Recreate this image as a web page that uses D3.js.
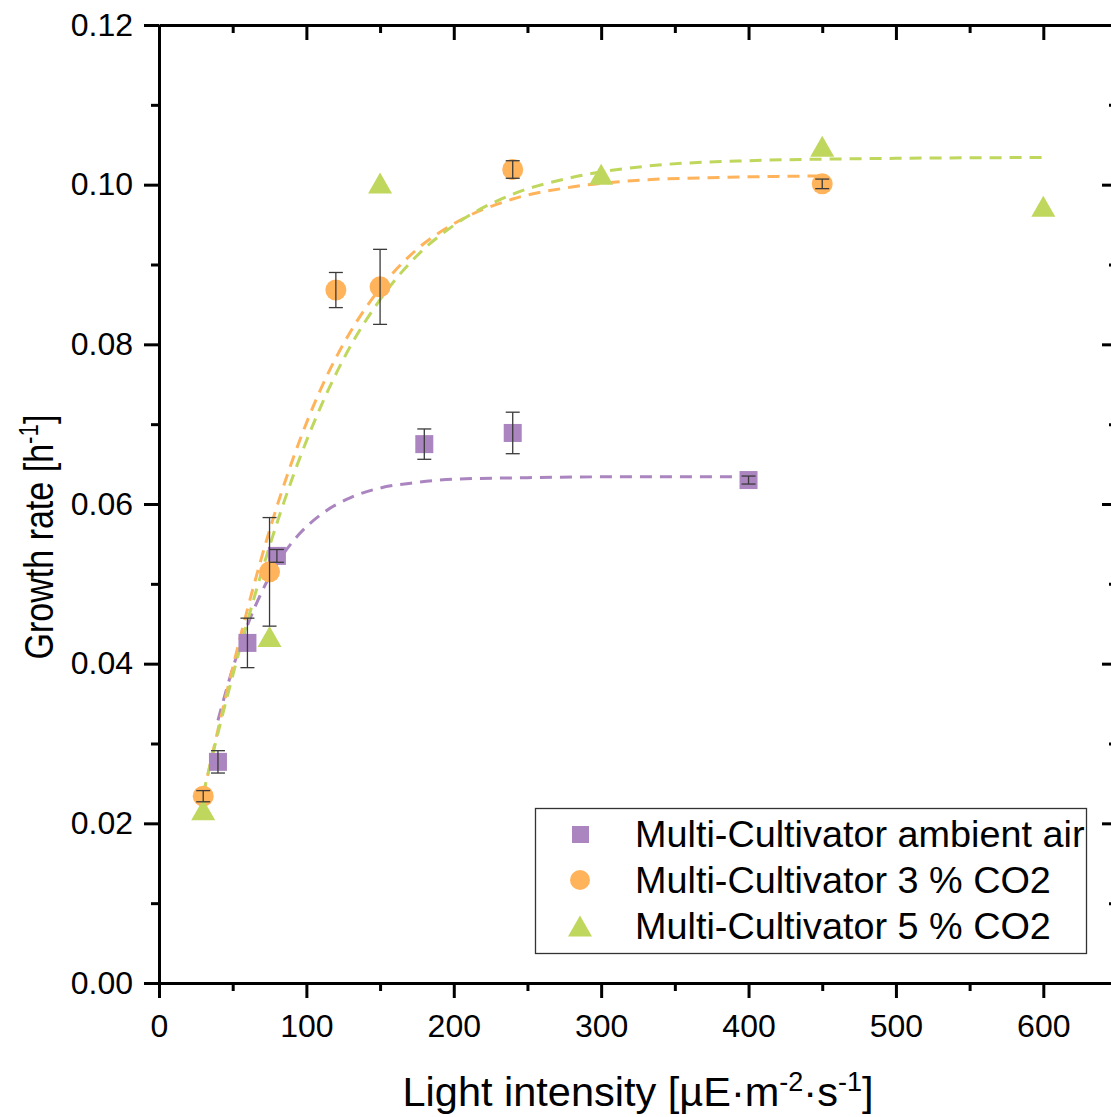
<!DOCTYPE html>
<html>
<head>
<meta charset="utf-8">
<script src="https://cdn.jsdelivr.net/npm/d3@7"></script>
<style>
  body { margin: 0; background: #fff; }
  text { font-family: "Liberation Sans", Arial, sans-serif; fill: #000; }
</style>
</head>
<body>
<div id="chart"></div>
<script>
// measured points
const lightAmbient = [40, 60, 80, 180, 240, 400];
const rateAmbient = [0.0277, 0.0426, 0.0535, 0.0675, 0.0689, 0.0630];
const errAmbient = [0.0014, 0.0031, 0.0008, 0.0019, 0.0026, 0.0005];

const light3 = [30, 75, 120, 150, 240, 450];
const rate3 = [0.0234, 0.0515, 0.0868, 0.0872, 0.1019, 0.1001];
const err3 = [0.0007, 0.0068, 0.0022, 0.0047, 0.0011, 0.0006];

const light5 = [30, 75, 150, 300, 450, 600];
const rate5 = [0.0217, 0.0434, 0.1002, 0.1013, 0.1048, 0.0973];

// fitted curves
const fitAmbientX = [40, 50, 60, 70, 80, 95, 110, 130, 150, 175, 200, 250, 300, 400];
const fitAmbientY = [0.0329, 0.0394, 0.0448, 0.0491, 0.0525, 0.0562, 0.0587, 0.0608, 0.0620, 0.0627, 0.0631, 0.0633, 0.0634, 0.0634];

const fit3X = [30, 40, 50, 60, 75, 90, 110, 130, 150, 175, 200, 240, 280, 330, 380, 450];
const fit3Y = [0.0235, 0.0317, 0.0395, 0.0468, 0.0567, 0.0652, 0.0745, 0.0816, 0.0870, 0.0919, 0.0951, 0.0982, 0.0997, 0.1006, 0.1009, 0.1011];

const fit5X = [30, 40, 50, 60, 75, 90, 110, 130, 150, 175, 200, 240, 280, 330, 400, 500, 600];
const fit5Y = [0.0237, 0.0313, 0.0385, 0.0453, 0.0547, 0.0630, 0.0723, 0.0798, 0.0856, 0.0911, 0.0949, 0.0988, 0.1009, 0.1023, 0.1030, 0.1033, 0.1034];

const seriesNames = ['Multi-Cultivator ambient air', 'Multi-Cultivator 3 % CO2', 'Multi-Cultivator 5 % CO2'];
const xTicks = [0, 100, 200, 300, 400, 500, 600];
const yTicks = [0, 0.02, 0.04, 0.06, 0.08, 0.10, 0.12];

const purple = '#ab85c0';
const orange = '#ffb45c';
const green = '#bfd75c';

const width = 1111;
const height = 1117;

const svg = d3.select('#chart')
  .append('svg')
  .attr('width', width)
  .attr('height', height);

// scales
const x = d3.scaleLinear().domain([0, 650]).range([159, 1117]);
const y = d3.scaleLinear().domain([0, 0.12]).range([983, 25]);

const xMinor = d3.range(50, 651, 100);
const yMinor = d3.range(0.01, 0.12, 0.02);

// bottom axis
svg.append('g')
  .attr('transform', 'translate(0,983)')
  .call(d3.axisBottom(x).tickValues(xMinor).tickSize(8).tickFormat(''))
  .call(g => g.select('.domain').remove());
const xAxis = svg.append('g')
  .attr('transform', 'translate(0,983)')
  .call(d3.axisBottom(x).tickValues(xTicks).tickSize(15).tickSizeOuter(0).tickPadding(16).tickFormat(d3.format('d')));
xAxis.selectAll('text').attr('font-size', '32px');

// top axis (ticks inward)
svg.append('g')
  .attr('transform', 'translate(0,25)')
  .call(d3.axisBottom(x).tickValues(xMinor).tickSize(8).tickFormat(''))
  .call(g => g.select('.domain').remove());
svg.append('g')
  .attr('transform', 'translate(0,25)')
  .call(d3.axisBottom(x).tickValues(xTicks).tickSize(15).tickSizeOuter(0).tickFormat(''));

// left axis
svg.append('g')
  .attr('transform', 'translate(159,0)')
  .call(d3.axisLeft(y).tickValues(yMinor).tickSize(8).tickFormat(''))
  .call(g => g.select('.domain').remove());
const yAxis = svg.append('g')
  .attr('transform', 'translate(159,0)')
  .call(d3.axisLeft(y).tickValues(yTicks).tickSize(15).tickSizeOuter(0).tickPadding(11).tickFormat(d3.format('.2f')));
yAxis.selectAll('text').attr('font-size', '32px');

// right axis (ticks inward)
svg.append('g')
  .attr('transform', 'translate(1117,0)')
  .call(d3.axisLeft(y).tickValues(yMinor).tickSize(8).tickFormat(''))
  .call(g => g.select('.domain').remove());
svg.append('g')
  .attr('transform', 'translate(1117,0)')
  .call(d3.axisLeft(y).tickValues(yTicks).tickSize(15).tickSizeOuter(0).tickFormat(''));

svg.selectAll('.domain, .tick line')
  .attr('stroke', '#000')
  .attr('stroke-width', 3);
svg.selectAll('.tick text').attr('fill', '#000');

// axis titles
const xTitle = svg.append('text')
  .attr('x', 638)
  .attr('y', 1106)
  .attr('text-anchor', 'middle')
  .attr('font-size', '41.5px');
xTitle.append('tspan').text('Light intensity [µE·m');
xTitle.append('tspan').attr('dy', -15).attr('font-size', '27px').text('-2');
xTitle.append('tspan').attr('dy', 15).text('·s');
xTitle.append('tspan').attr('dy', -15).attr('font-size', '27px').text('-1');
xTitle.append('tspan').attr('dy', 15).text(']');

const yTitle = svg.append('text')
  .attr('transform', 'translate(53,537) rotate(-90) scale(0.83,1)')
  .attr('text-anchor', 'middle')
  .attr('font-size', '41px');
yTitle.append('tspan').text('Growth rate [h');
yTitle.append('tspan').attr('dy', -15).attr('font-size', '27px').text('-1');
yTitle.append('tspan').attr('dy', 15).text(']');

// fitted curves
const line = d3.line()
  .x(d => x(d[0]))
  .y(d => y(d[1]))
  .curve(d3.curveMonotoneX);

const fits = [
  { xs: fitAmbientX, ys: fitAmbientY, color: purple },
  { xs: fit3X, ys: fit3Y, color: orange },
  { xs: fit5X, ys: fit5Y, color: green }
];
fits.forEach(f => {
  svg.append('path')
    .datum(f.xs.map((v, i) => [v, f.ys[i]]))
    .attr('d', line)
    .attr('fill', 'none')
    .attr('stroke', f.color)
    .attr('stroke-width', 3)
    .attr('stroke-dasharray', '12,8');
});

// error bars
function errorBars(xs, ys, es) {
  const g = svg.append('g').attr('stroke', '#3a3a3a').attr('stroke-width', 1.3);
  xs.forEach((v, i) => {
    const top = y(ys[i] + es[i]);
    const bot = y(ys[i] - es[i]);
    g.append('line').attr('x1', x(v)).attr('x2', x(v)).attr('y1', top).attr('y2', bot);
    g.append('line').attr('x1', x(v) - 7).attr('x2', x(v) + 7).attr('y1', top).attr('y2', top);
    g.append('line').attr('x1', x(v) - 7).attr('x2', x(v) + 7).attr('y1', bot).attr('y2', bot);
  });
}

const triangle = 'M0,-10.5L12,10.5L-12,10.5Z';

// markers
svg.selectAll('rect.ambient')
  .data(lightAmbient)
  .enter()
  .append('rect')
  .attr('class', 'ambient')
  .attr('x', d => x(d) - 9)
  .attr('y', (d, i) => y(rateAmbient[i]) - 9)
  .attr('width', 18)
  .attr('height', 18)
  .attr('fill', purple);

svg.selectAll('circle.co3')
  .data(light3)
  .enter()
  .append('circle')
  .attr('class', 'co3')
  .attr('cx', d => x(d))
  .attr('cy', (d, i) => y(rate3[i]))
  .attr('r', 10.5)
  .attr('fill', orange);

svg.selectAll('path.co5')
  .data(light5)
  .enter()
  .append('path')
  .attr('class', 'co5')
  .attr('d', triangle)
  .attr('transform', (d, i) => 'translate(' + x(d) + ',' + y(rate5[i]) + ')')
  .attr('fill', green);

errorBars(lightAmbient, rateAmbient, errAmbient);
errorBars(light3, rate3, err3);

// legend
const legend = svg.append('g');
legend.append('rect')
  .attr('x', 535.5)
  .attr('y', 808.5)
  .attr('width', 551)
  .attr('height', 145)
  .attr('fill', '#fff')
  .attr('stroke', '#333')
  .attr('stroke-width', 1.3);

const rowY = [834, 880, 926];
legend.append('rect')
  .attr('x', 572).attr('y', rowY[0] - 8).attr('width', 17).attr('height', 17)
  .attr('fill', purple);
legend.append('circle')
  .attr('cx', 580).attr('cy', rowY[1]).attr('r', 10)
  .attr('fill', orange);
legend.append('path')
  .attr('d', triangle)
  .attr('transform', 'translate(580,' + rowY[2] + ')')
  .attr('fill', green);

legend.selectAll('text.leg')
  .data(seriesNames)
  .enter()
  .append('text')
  .attr('class', 'leg')
  .attr('x', 635)
  .attr('y', (d, i) => rowY[i] + 13)
  .attr('font-size', '37.8px')
  .text(d => d);
</script>
</body>
</html>
